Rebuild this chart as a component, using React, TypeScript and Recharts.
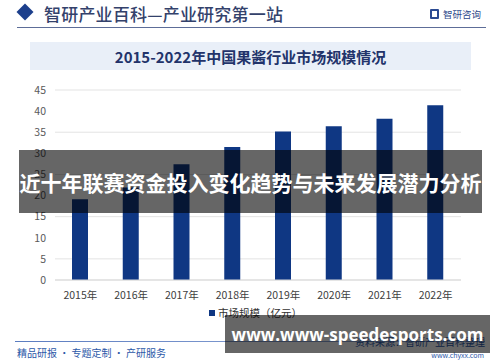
import { BarChart, Bar, XAxis, YAxis, CartesianGrid } from "recharts"

const years = ["2015年", "2016年", "2017年", "2018年", "2019年", "2020年", "2021年", "2022年"]
const marketSize = [19.1, 21.9, 27.4, 31.5, 35.2, 36.4, 38.2, 41.4]
const yTicks = [0, 5, 10, 15, 20, 25, 30, 35, 40, 45]

const FONT = "'Noto Sans CJK SC', 'Noto Sans', sans-serif"
const NAVY = "#0f3783"

const data = years.map((year, i) => ({ year, value: marketSize[i] }))

export default function App() {
  return (
    <div style={{ position: "relative", width: 500, height: 362, background: "#fff", overflow: "hidden", fontFamily: FONT }}>
      <style>{"body{margin:0}"}</style>

      {/* header */}
      <div style={{ position: "absolute", left: 19, top: 6, width: 12, height: 12, background: "#1c3f8c", transform: "rotate(45deg)" }} />
      <div style={{ position: "absolute", left: 44, top: 1, fontSize: 17, fontWeight: 500, color: "#33416b", letterSpacing: 0.2, whiteSpace: "nowrap" }}>
        智研产业百科—产业研究第一站
      </div>
      <div style={{ position: "absolute", left: 430, top: 9, width: 9, height: 10, border: "2px solid #2b4a92", borderRadius: 1, boxSizing: "border-box" }} />
      <div style={{ position: "absolute", left: 443, top: 7, fontSize: 9.5, color: "#2f4a8c", whiteSpace: "nowrap" }}>智研咨询</div>
      <div style={{ position: "absolute", left: 17, top: 27, width: 469, height: 1, background: "#5d6d98" }} />

      {/* title band */}
      <div style={{ position: "absolute", left: 30, top: 42, width: 441, height: 28, background: "#e9eff8", display: "flex", alignItems: "center", justifyContent: "center", fontSize: 15, fontWeight: 700, color: "#22336a", whiteSpace: "nowrap" }}>
        2015-2022年中国果酱行业市场规模情况
      </div>

      <div style={{ position: "absolute", left: 0, top: 0 }}>
        <BarChart width={500} height={362} data={data} margin={{ top: 90, right: 39, bottom: 52, left: 0 }}>
          <CartesianGrid vertical={false} stroke="#e3e3e3" />
          <XAxis
            dataKey="year"
            height={30}
            axisLine={{ stroke: "#d9d9d9" }}
            tickLine={false}
            tickMargin={6}
            tick={{ fontSize: 10.5, fill: "#404040", fontFamily: FONT }}
          />
          <YAxis
            width={55}
            domain={[0, 45]}
            ticks={yTicks}
            axisLine={false}
            tickLine={false}
            tickMargin={3}
            tick={{ fontSize: 10.5, fill: "#595959", fontFamily: FONT }}
          />
          <Bar dataKey="value" name="市场规模（亿元）" fill={NAVY} barSize={16} isAnimationActive={false} />
        </BarChart>
      </div>

      {/* legend */}
      <div style={{ position: "absolute", left: 209, top: 305, display: "flex", alignItems: "center", fontSize: 10.5, color: "#333", whiteSpace: "nowrap" }}>
        <span style={{ width: 6, height: 6, background: NAVY, marginRight: 3, display: "inline-block" }} />
        市场规模（亿元）
      </div>

      {/* footer */}
      <div style={{ position: "absolute", left: 15, top: 341, width: 470, height: 1, background: "linear-gradient(90deg,#5b7cc0,#9fb4dd)" }} />
      <div style={{ position: "absolute", left: 17, top: 345, fontSize: 10, color: "#2c58a8", whiteSpace: "nowrap" }}>精品研报 · 专题定制 · 产研服务</div>
      <div style={{ position: "absolute", right: 15, top: 334, fontSize: 10, color: "#2c58a8", whiteSpace: "nowrap" }}>资料来源：智研产业百科整理</div>
      <div style={{ position: "absolute", right: 16, top: 350, fontSize: 7, color: "#2c58a8", whiteSpace: "nowrap" }}>www.chyxx.com</div>

      {/* overlay banners */}
      <div style={{ position: "absolute", left: 19, top: 150, width: 463, height: 63, background: "rgba(0,0,0,0.6)", display: "flex", alignItems: "center", justifyContent: "center", color: "#fff", fontSize: 21, fontWeight: 700, whiteSpace: "nowrap" }}>
        近十年联赛资金投入变化趋势与未来发展潜力分析
      </div>
      <div style={{ position: "absolute", left: 225, top: 315, width: 265, height: 38, background: "rgba(0,0,0,0.6)", display: "flex", alignItems: "center", justifyContent: "center", color: "#fff", fontSize: 17, fontWeight: 700, fontFamily: "'Open Sans', sans-serif", whiteSpace: "nowrap" }}>
        www.www-speedesports.com
      </div>
    </div>
  )
}
